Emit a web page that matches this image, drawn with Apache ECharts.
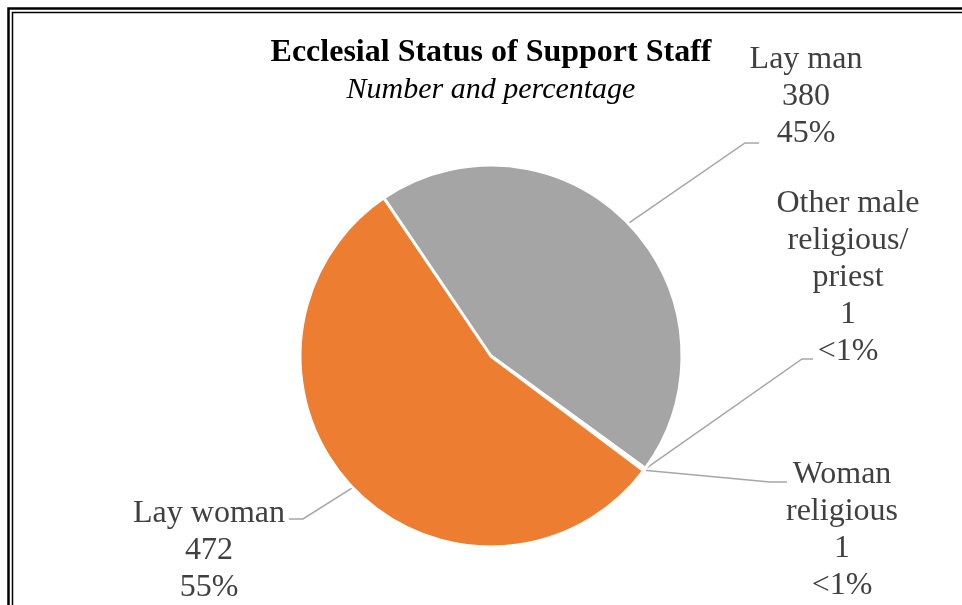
<!DOCTYPE html>
<html>
<head>
<meta charset="utf-8">
<script src="https://cdn.jsdelivr.net/npm/echarts@6/dist/echarts.min.js"></script>
<style>
    html, body { margin: 0; padding: 0; background: #fff; }
    #main { width: 962px; height: 605px; }
</style>
</head>
<body>
<div id="main"></div>
<script>
// data (Excel order: blue, orange, grey, yellow)
var names = ['Woman religious', 'Lay woman', 'Lay man', 'Other male religious/ priest'];
var labelNames = ['Woman\nreligious', 'Lay woman', 'Lay man', 'Other male\nreligious/\npriest'];
var values = [1, 472, 380, 1];
var pctLabels = ['<1%', '55%', '45%', '<1%'];
var colors = ['#4472C4', '#ED7D31', '#A5A5A5', '#FFC000'];

// where Excel put each data label box and its leader line
var labelPos = [
    { x: 842, y: 530.5, line: [[770, 482], [787, 482]] },
    { x: 209, y: 550.5, line: [[303, 519], [289, 519]] },
    { x: 806, y: 96.5, line: [[745, 143], [759, 143]] },
    { x: 848, y: 278, line: [[802, 359], [813, 359]] }
];

function drawpie(id) {
    var myChart = echarts.init(document.getElementById(id));

    var seriesData = [];
    for (var i = 0; i < names.length; i++) {
        seriesData.push({
            name: names[i],
            value: values[i],
            itemStyle: { color: colors[i] }
        });
    }

    myChart.setOption({
        animation: false,
        title: {
            text: 'Ecclesial Status of Support Staff',
            subtext: 'Number and percentage',
            left: 486,
            top: 31,
            textAlign: 'center',
            itemGap: 4,
            textStyle: {
                fontFamily: 'Liberation Serif',
                fontSize: 32,
                fontWeight: 'bold',
                color: '#000',
                lineHeight: 34
            },
            subtextStyle: {
                fontFamily: 'Liberation Serif',
                fontSize: 30,
                fontStyle: 'italic',
                color: '#000',
                lineHeight: 32
            }
        },
        graphic: [
            {
                type: 'rect',
                shape: { x: 8.5, y: 8.5, width: 2000, height: 2000 },
                style: { fill: 'none', stroke: '#000', lineWidth: 2.5 }
            },
            {
                type: 'rect',
                shape: { x: 12.5, y: 12.5, width: 2000, height: 2000 },
                style: { fill: 'none', stroke: '#000', lineWidth: 1.5 }
            }
        ],
        series: [
            {
                name: 'Ecclesial status',
                type: 'pie',
                center: [491, 356],
                radius: 191,
                startAngle: -36.5,
                clockwise: true,
                avoidLabelOverlap: false,
                emphasis: { disabled: true },
                itemStyle: {
                    borderColor: '#fff',
                    borderWidth: 3
                },
                label: {
                    show: true,
                    position: 'outside',
                    fontFamily: 'Liberation Serif',
                    fontSize: 32,
                    lineHeight: 37,
                    color: '#404040',
                    align: 'center',
                    formatter: function (p) {
                        return labelNames[p.dataIndex] + '\n' + p.value + '\n' + pctLabels[p.dataIndex];
                    }
                },
                labelLine: {
                    show: true,
                    length: 20,
                    length2: 10,
                    lineStyle: { color: '#A6A6A6', width: 1.5 }
                },
                labelLayout: function (params) {
                    var pos = labelPos[params.dataIndex];
                    var start = params.labelLinePoints ? params.labelLinePoints[0] : pos.line[0];
                    return {
                        x: pos.x,
                        y: pos.y,
                        align: 'center',
                        verticalAlign: 'middle',
                        labelLinePoints: [start, pos.line[0], pos.line[1]]
                    };
                },
                data: seriesData
            }
        ]
    });
}

drawpie('main');
</script>
</body>
</html>
